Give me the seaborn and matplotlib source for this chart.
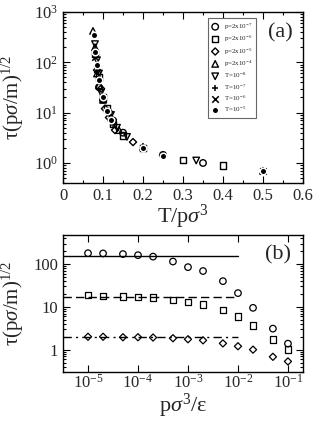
import matplotlib
matplotlib.use('Agg')
import matplotlib.pyplot as plt
import matplotlib.ticker as mticker
import seaborn as sns

# panel (a): tau(p sigma/m)^1/2 vs T/p sigma^3, collapse of all runs
p7_x = [0.09, 0.1, 0.115, 0.125, 0.15, 0.25, 0.35]
p7_y = [32, 18, 10, 7, 4.0, 1.45, 1.0]
p6_x = [0.08, 0.09, 0.1, 0.11, 0.125, 0.15, 0.2, 0.3, 0.4]
p6_y = [150, 50, 20, 12, 6, 3.5, 2.0, 1.15, 0.9]
p5_x = [0.085, 0.095, 0.105, 0.115, 0.13, 0.175, 0.25]
p5_y = [70, 30, 12, 8, 4.5, 2.6, 1.4]
p4_x = [0.075, 0.08, 0.085, 0.09, 0.1, 0.12, 0.14, 0.2, 0.5]
p4_y = [420, 200, 60, 35, 18, 8, 4.5, 2.1, 0.7]
t8_x = [0.08, 0.085, 0.09, 0.095, 0.12, 0.135, 0.16, 0.333]
t8_y = [230, 110, 60, 25, 9, 5, 3.3, 1.12]
t7_x = [0.08, 0.09, 0.1, 0.125, 0.2, 0.5]
t7_y = [180, 45, 18, 6, 2.0, 0.7]
t6_x = [0.08, 0.085, 0.1, 0.125, 0.2, 0.5]
t6_y = [130, 75, 19, 6.5, 2.0, 0.68]
t5_x = [0.077, 0.08, 0.085, 0.09, 0.1, 0.11, 0.12, 0.2, 0.25, 0.5]
t5_y = [350, 160, 90, 45, 20, 11, 7, 2.0, 1.4, 0.68]

# panel (b): tau vs p sigma^3/eps for three temperatures
p_vals = [1e-5, 2e-5, 5e-5, 1e-4, 2e-4, 5e-4, 1e-3, 2e-3, 5e-3, 1e-2, 2e-2, 5e-2, 1e-1]
tau_circ = [180, 178, 172, 162, 150, 115, 85, 69, 40, 21, 9.5, 3.1, 1.38]
tau_sq = [19, 18, 17.5, 17, 16.5, 14.5, 13, 11.5, 8.5, 6, 3.7, 1.75, 1.0]
tau_dia = [2.0, 2.0, 1.95, 1.95, 1.92, 1.85, 1.75, 1.65, 1.4, 1.2, 1.0, 0.68, 0.53]
plateau_x = [3.16e-6, 1e-2]
plateau = [155, 17, 2.0]

sns.set_theme(style='ticks')
plt.rcParams['font.family'] = ['Liberation Serif', 'DejaVu Serif']
plt.rcParams['mathtext.fontset'] = 'custom'
plt.rcParams['mathtext.rm'] = 'Liberation Serif'
plt.rcParams['mathtext.it'] = 'Liberation Serif:italic'
plt.rcParams['axes.edgecolor'] = 'black'
plt.rcParams['axes.linewidth'] = 1.0

fig = plt.figure(figsize=(3.16, 4.21), dpi=100)
ax1 = fig.add_axes([63/316, 1-183/421, 240/316, 171/421])
ax2 = fig.add_axes([63/316, 1-372/421, 240/316, 137/421])

ms = 22
open_kw = dict(facecolor='none', edgecolor='black', linewidth=0.9, s=ms)
series = [
    (p7_x, p7_y, 'o', r'p=2x10$^{-7}$', True),
    (p6_x, p6_y, 's', r'p=2x10$^{-6}$', True),
    (p5_x, p5_y, 'D', r'p=2x10$^{-5}$', True),
    (p4_x, p4_y, '^', r'p=2x10$^{-4}$', True),
    (t8_x, t8_y, 'v', r'T=10$^{-8}$', True),
    (t7_x, t7_y, '+', r'T=10$^{-7}$', False),
    (t6_x, t6_y, 'x', r'T=10$^{-6}$', False),
    (t5_x, t5_y, 'o', r'T=10$^{-5}$', False),
]
for xs, ys, m, lab, is_open in series:
    if is_open:
        s = ms * 0.6 if m == 'D' else ms
        sns.scatterplot(x=xs, y=ys, marker=m, label=lab, ax=ax1,
                        facecolor='none', edgecolor='black', linewidth=1.0, s=s)
    else:
        sns.scatterplot(x=xs, y=ys, marker=m, label=lab, ax=ax1,
                        color='black', linewidth=1.1, s=ms)

ax1.set_yscale('log')
ax1.set_xlim(0, 0.6)
ax1.set_ylim(0.4, 1000)
ax1.xaxis.set_major_locator(mticker.MultipleLocator(0.1))
ax1.xaxis.set_minor_locator(mticker.MultipleLocator(0.05))
ax1.xaxis.set_major_formatter(mticker.FormatStrFormatter('%g'))
ax1.set_xlabel(r'T/p$\sigma^3$', fontsize=16, labelpad=-1)
ax1.set_ylabel(r'$\mathregular{\tau}$(p$\sigma$/m)$^{1/2}$', fontsize=15)
ax1.yaxis.set_label_coords(-0.155, 0.5)
ax1.text(0.905, 0.88, '(a)', transform=ax1.transAxes, fontsize=16,
         ha='center', va='center')
leg = ax1.legend(loc='upper right', bbox_to_anchor=(0.804, 0.965),
                 borderaxespad=0, fontsize=5, frameon=True, fancybox=False,
                 edgecolor='0.4', framealpha=1, labelspacing=0.3,
                 handletextpad=0.7, handlelength=1.1, borderpad=0.5,
                 markerscale=1.0)
leg.get_frame().set_linewidth(0.8)

# panel (b)
sns.scatterplot(x=p_vals, y=tau_circ, marker='o', ax=ax2, **open_kw)
sns.scatterplot(x=p_vals, y=tau_sq, marker='s', ax=ax2, **open_kw)
sns.scatterplot(x=p_vals, y=tau_dia, marker='D', ax=ax2,
                facecolor='none', edgecolor='black', linewidth=0.9, s=ms * 0.6)
sns.lineplot(x=plateau_x, y=[plateau[0]] * 2, ax=ax2, color='black', linewidth=1.0)
sns.lineplot(x=plateau_x, y=[plateau[1]] * 2, ax=ax2, color='black', linewidth=1.0,
             linestyle=(0, (6, 3)))
sns.lineplot(x=plateau_x, y=[plateau[2]] * 2, ax=ax2, color='black', linewidth=1.0,
             linestyle=(0, (6, 3, 1.5, 3)))
ax2.set_xscale('log')
ax2.set_yscale('log')
ax2.set_xlim(3.16e-6, 0.2)
ax2.set_ylim(0.3, 480)
ax2.yaxis.set_major_formatter(mticker.FuncFormatter(lambda v, _: '%g' % v))
ax2.xaxis.set_major_locator(mticker.LogLocator(base=10, numticks=10))
ax2.set_xlabel(r'p$\sigma^3$/$\mathregular{\varepsilon}$', fontsize=16, labelpad=0)
ax2.set_ylabel(r'$\mathregular{\tau}$(p$\sigma$/m)$^{1/2}$', fontsize=15)
ax2.yaxis.set_label_coords(-0.155, 0.5)
ax2.text(0.895, 0.854, '(b)', transform=ax2.transAxes, fontsize=16,
         ha='center', va='center')

for ax in (ax1, ax2):
    ax.tick_params(which='both', direction='in', top=True, right=True,
                   labelsize=12, color='black', width=0.8)
    ax.tick_params(which='major', length=5)
    ax.tick_params(which='minor', length=2.5)
    for sp in ax.spines.values():
        sp.set_visible(True)
        sp.set_color('black')
ax2.tick_params(axis='x', which='major', pad=1.5)
ax2.yaxis.set_minor_formatter(mticker.NullFormatter())

fig.savefig('out.png', dpi=100)
